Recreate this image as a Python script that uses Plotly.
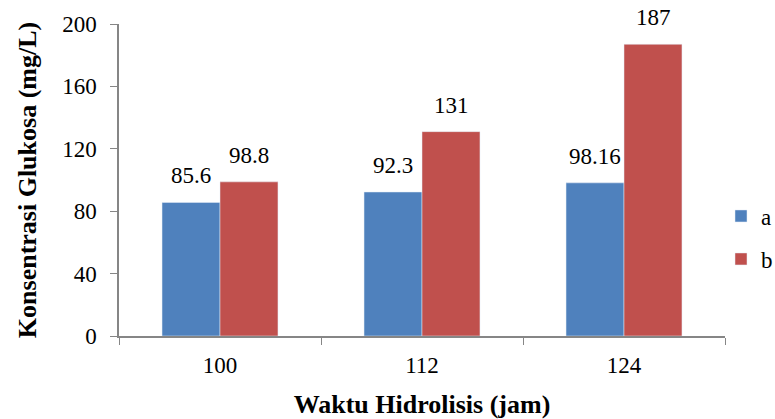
import plotly.graph_objects as go

categories = ["100", "112", "124"]
series_a = [85.6, 92.3, 98.16]
series_b = [98.8, 131, 187]
labels_a = ["85.6", "92.3", "98.16"]
labels_b = ["98.8", "131", "187"]
y_ticks = [0, 40, 80, 120, 160, 200]

FF = "Times New Roman"

def f(size, **kw):
    return dict(family=FF, size=size, color="black", **kw)

fig = go.Figure()
fig.add_trace(go.Bar(name="a", x=categories, y=series_a, marker_color="#4F81BD",
                     legend="legend"))
fig.add_trace(go.Bar(name="b", x=categories, y=series_b, marker_color="#C0504D",
                     legend="legend2"))

for vals, labs, dx in ((series_a, labels_a, -29), (series_b, labels_b, 29)):
    for i, (v, t) in enumerate(zip(vals, labs)):
        fig.add_annotation(x=i, y=v, text=t, showarrow=False, xshift=dx,
                           yanchor="bottom", yshift=12, font=f(23))

leg = dict(xanchor="left", yanchor="middle", font=f(23), itemwidth=30,
           bgcolor="rgba(0,0,0,0)")
fig.update_layout(
    width=775, height=419,
    margin=dict(l=119, r=50, t=24, b=83, autoexpand=False),
    paper_bgcolor="white", plot_bgcolor="white",
    font=f(23),
    barmode="group", bargap=0.426, bargroupgap=0,
    showlegend=True,
    legend=dict(x=0.9934, y=0.3846, **leg),
    legend2=dict(x=0.9934, y=0.2468, **leg),
    xaxis=dict(
        type="category", range=[-0.5, 2.5], showline=True, linecolor="#868686",
        linewidth=1.5, tickangle=0,
        ticks="outside", tickson="boundaries", ticklen=7, tickcolor="#868686",
        showgrid=False, tickfont=f(23), automargin=False, ticklabelstandoff=8,
        title=dict(text="<b>Waktu Hidrolisis (jam)</b>", font=f(26), standoff=18),
    ),
    yaxis=dict(
        range=[0, 200], tickvals=y_ticks, showline=True, linecolor="#868686",
        linewidth=1.5, ticks="outside", ticklen=7, tickcolor="#868686",
        showgrid=False, zeroline=False, tickfont=f(23), automargin=False,
        ticklabelstandoff=9,
        title=dict(text="<b>Konsentrasi Glukosa (mg/L)</b>", font=f(26), standoff=18),
    ),
)

fig.write_html("out.html", config={"displayModeBar": False},
               post_script="document.body.style.margin='0px';document.body.style.overflow='hidden';")
